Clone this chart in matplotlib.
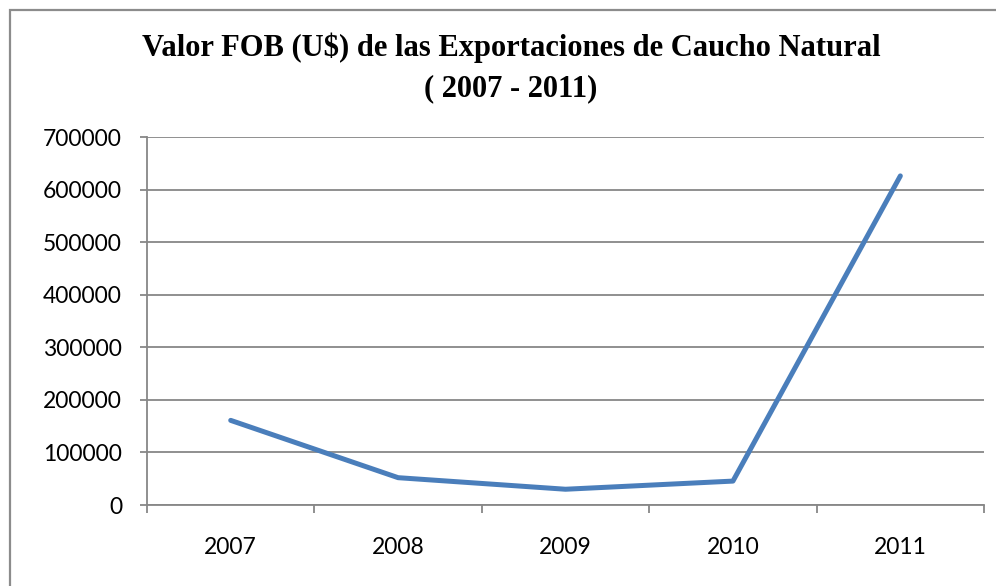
import matplotlib.pyplot as plt
from matplotlib.patches import Rectangle

years = ['2007', '2008', '2009', '2010', '2011']
fob = [161000, 52000, 30000, 45500, 626000]
y_ticks = [0, 100000, 200000, 300000, 400000, 500000, 600000, 700000]

fig = plt.figure(figsize=(9.96, 5.86), dpi=100)
ax = fig.add_axes([0.1476, 0.1382, 0.8404, 0.628])

x = range(len(years))
ax.plot(x, fob, color='#4A7EBB', lw=3.6, solid_capstyle='round', solid_joinstyle='round', zorder=3)

ax.set_xlim(-0.5, len(years) - 0.5)
ax.set_ylim(0, 700000)
ax.set_yticks(y_ticks)
ax.set_yticklabels([str(v) for v in y_ticks])
ax.set_xticks([i - 0.5 for i in range(len(years) + 1)])
ax.set_xticklabels([])
ax.set_xticks(list(x), minor=True)
ax.set_xticklabels(years, minor=True)

ax.grid(axis='y', color='#878787', lw=1.3)
ax.set_axisbelow(True)
for s in ['top', 'right']:
    ax.spines[s].set_visible(False)
for s in ['left', 'bottom']:
    ax.spines[s].set_color('#878787')
    ax.spines[s].set_linewidth(1.3)

ax.tick_params(axis='y', length=5, width=1.3, color='#878787', pad=13, labelsize=16.5)
ax.tick_params(axis='x', which='major', length=6, width=1.3, color='#878787')
ax.tick_params(axis='x', which='minor', length=0, pad=23, labelsize=16.5)
for lab in ax.get_yticklabels() + ax.get_xticklabels(minor=True):
    lab.set_fontfamily('Lato')

fig.text(0.513, 0.918, 'Valor FOB (U$) de las Exportaciones de Caucho Natural',
         ha='center', va='center', family='Liberation Serif', weight='bold', fontsize=22)
fig.text(0.513, 0.848, '( 2007 - 2011)',
         ha='center', va='center', family='Liberation Serif', weight='bold', fontsize=22)

fig.patches.append(Rectangle((0.010, -0.5), 2, 1.483, transform=fig.transFigure,
                             fill=False, edgecolor='#8c8c8c', lw=1.6))

fig.savefig('out.png', dpi=100)
